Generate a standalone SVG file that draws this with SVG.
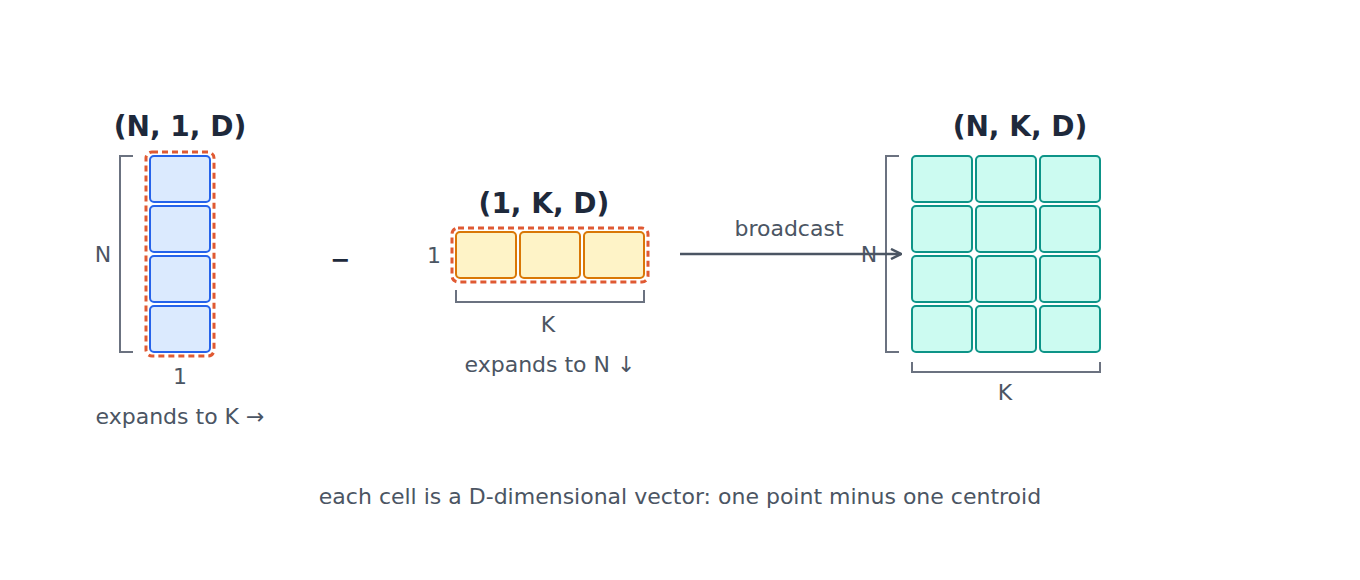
<svg xmlns="http://www.w3.org/2000/svg" width="1360" height="580" viewBox="0 0 1360 580">
<defs>
<style>
.title{font-family:"DejaVu Sans",sans-serif;font-weight:bold;font-size:28px;fill:#1e293b;text-anchor:middle}
.lbl{font-family:"DejaVu Sans",sans-serif;font-size:22px;fill:#4b5563;text-anchor:middle}
.blue{fill:#dbeafe;stroke:#2563eb;stroke-width:2}
.amber{fill:#fef3c7;stroke:#d97706;stroke-width:2}
.teal{fill:#ccfbf1;stroke:#0d9488;stroke-width:2}
.hl{fill:none;stroke:#e05a33;stroke-width:3;stroke-dasharray:6 4}
.br{fill:none;stroke:#6b7280;stroke-width:2}
</style>
<marker id="ah" viewBox="0 0 12 12" refX="11" refY="6" markerWidth="12" markerHeight="12" markerUnits="userSpaceOnUse" orient="auto">
<path d="M1,1 L11,6 L1,11" fill="none" stroke="#4b5563" stroke-width="2.5"/>
</marker>
</defs>
<rect width="1360" height="580" fill="#ffffff"/>

<g id="left">
<text class="title" x="180" y="136">(N, 1, D)</text>
<rect class="blue" x="150" y="156" width="60" height="46" rx="4"/>
<rect class="blue" x="150" y="206" width="60" height="46" rx="4"/>
<rect class="blue" x="150" y="256" width="60" height="46" rx="4"/>
<rect class="blue" x="150" y="306" width="60" height="46" rx="4"/>
<rect class="hl" x="146" y="152" width="68" height="204" rx="6"/>
<path class="br" d="M133,156 H120 V352 H133"/>
<text class="lbl" x="103" y="262">N</text>
<text class="lbl" x="180" y="384">1</text>
<text class="lbl" x="180" y="424">expands to K →</text>
</g>

<g id="minus">
<text x="340" y="268" style="font-family:'DejaVu Sans',sans-serif;font-weight:bold;font-size:24px;fill:#1e293b;text-anchor:middle">−</text>
</g>

<g id="middle">
<text class="title" x="544" y="213">(1, K, D)</text>
<rect class="amber" x="456" y="232" width="60" height="46" rx="4"/>
<rect class="amber" x="520" y="232" width="60" height="46" rx="4"/>
<rect class="amber" x="584" y="232" width="60" height="46" rx="4"/>
<rect class="hl" x="452" y="228" width="196" height="54" rx="6"/>
<text class="lbl" x="434" y="263">1</text>
<path class="br" d="M456,290 V302 H644 V290"/>
<text class="lbl" x="548" y="332">K</text>
<text class="lbl" x="550" y="372">expands to N ↓</text>
</g>

<g id="right">
<text class="title" x="1020" y="136">(N, K, D)</text>
<rect class="teal" x="912" y="156" width="60" height="46" rx="4"/>
<rect class="teal" x="976" y="156" width="60" height="46" rx="4"/>
<rect class="teal" x="1040" y="156" width="60" height="46" rx="4"/>
<rect class="teal" x="912" y="206" width="60" height="46" rx="4"/>
<rect class="teal" x="976" y="206" width="60" height="46" rx="4"/>
<rect class="teal" x="1040" y="206" width="60" height="46" rx="4"/>
<rect class="teal" x="912" y="256" width="60" height="46" rx="4"/>
<rect class="teal" x="976" y="256" width="60" height="46" rx="4"/>
<rect class="teal" x="1040" y="256" width="60" height="46" rx="4"/>
<rect class="teal" x="912" y="306" width="60" height="46" rx="4"/>
<rect class="teal" x="976" y="306" width="60" height="46" rx="4"/>
<rect class="teal" x="1040" y="306" width="60" height="46" rx="4"/>
<path class="br" d="M899,156 H886 V352 H899"/>
<text class="lbl" x="869" y="262">N</text>
<path class="br" d="M912,362 V372 H1100 V362"/>
<text class="lbl" x="1005" y="400">K</text>
</g>

<g id="connectors">
<line x1="680" y1="254" x2="901" y2="254" stroke="#4b5563" stroke-width="2.5" marker-end="url(#ah)"/>
<text class="lbl" x="789" y="236">broadcast</text>
</g>

<g id="footer">
<text class="lbl" x="680" y="504">each cell is a D-dimensional vector: one point minus one centroid</text>
</g>
</svg>
